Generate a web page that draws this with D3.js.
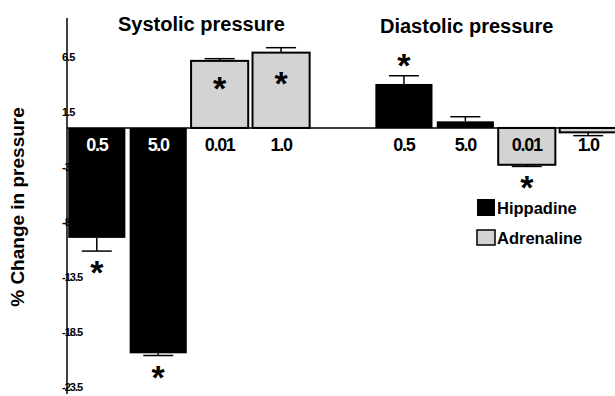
<!DOCTYPE html>
<html>
<head>
<meta charset="utf-8">
<script src="https://cdn.jsdelivr.net/npm/d3@7"></script>
<style>
body{margin:0;background:#fff;}
svg{display:block;font-family:"Liberation Sans",Arial,sans-serif;font-weight:bold;}
</style>
</head>
<body>
<div id="chart"></div>
<script>
// values (% change)
var groups = ['Systolic pressure','Diastolic pressure'];
var doses = ['0.5','5.0','0.01','1.0'];
var drugs = ['Hippadine','Hippadine','Adrenaline','Adrenaline'];
var systolic = [-10.0,-20.5,6.1,6.85];
var systolicErr = [1.2,0.2,0.2,0.45];
var diastolic = [4.0,0.6,-3.35,-0.4];
var diastolicErr = [0.75,0.42,0.15,0.3];
// where the * goes: 'out' past the error bar, 'in' inside the bar, '' none
var systolicSig = ['out','out','in','in'];
var diastolicSig = ['out','','out',''];
var tickValues = [6.5,1.5,-3.5,-8.5,-13.5,-18.5,-23.5];
var legendItems = ['Hippadine','Adrenaline'];
var colors = {Hippadine:'#000',Adrenaline:'#d3d3d3'};

var width = 615, height = 396;
var axisX = 67;

var svg = d3.select('#chart').append('svg')
	.attr('width',width).attr('height',height);

// build rows, diastolic group starts after one empty slot
var rows = [];
[systolic,diastolic].forEach(function(vals,g){
	var errs = g==0 ? systolicErr : diastolicErr;
	var sig = g==0 ? systolicSig : diastolicSig;
	vals.forEach(function(v,i){
		rows.push({slot:g*5+i,value:v,err:errs[i],sig:sig[i],dose:doses[i],drug:drugs[i]});
	});
});

var x = d3.scaleBand().domain(d3.range(9)).range([axisX,618])
	.paddingInner(0.07).paddingOuter(0.02);
var y = d3.scaleLinear().domain([10,-24.2]).range([18,394]);

// axis (drawn first, bars cover some labels like in the original)
var axis = d3.axisLeft(y).tickValues(tickValues).tickSize(0)
	.tickFormat(function(d){return (d<0?'-':'')+Math.abs(d);});
var gAxis = svg.append('g').attr('transform','translate('+axisX+',0)').call(axis);
gAxis.select('.domain').remove();
gAxis.selectAll('text')
	.attr('x',-5).attr('dy','0.35em')
	.attr('text-anchor','start')
	.style('font-family','"Liberation Sans",Arial,sans-serif')
	.style('font-weight','bold')
	.style('font-size','11px')
	.style('letter-spacing','-1px')
	.attr('fill','#000');
svg.append('line')
	.attr('x1',axisX).attr('x2',axisX)
	.attr('y1',y(10)).attr('y2',y(-24.2))
	.style('stroke','#000').style('stroke-width',1.5);

// bars
svg.selectAll('rect.bar').data(rows).enter().append('rect')
	.attr('class','bar')
	.attr('x',function(d){return x(d.slot);})
	.attr('width',x.bandwidth())
	.attr('y',function(d){return y(Math.max(0,d.value));})
	.attr('height',function(d){return Math.abs(y(d.value)-y(0));})
	.style('fill',function(d){return colors[d.drug];})
	.style('stroke',function(d){return d.drug=='Adrenaline'?'#000':'none';})
	.style('stroke-width',2);

// error bars, only on the outer side
var cap = 15;
rows.forEach(function(d){
	var cx = x(d.slot)+x.bandwidth()/2;
	var end = d.value>=0 ? d.value+d.err : d.value-d.err;
	svg.append('line')
		.attr('x1',cx).attr('x2',cx)
		.attr('y1',y(d.value)).attr('y2',y(end))
		.style('stroke','#000').style('stroke-width',1.5);
	svg.append('line')
		.attr('x1',cx-cap).attr('x2',cx+cap)
		.attr('y1',y(end)).attr('y2',y(end))
		.style('stroke','#000').style('stroke-width',1.5);
});

// zero line
svg.append('line')
	.attr('x1',axisX).attr('x2',width)
	.attr('y1',y(0)).attr('y2',y(0))
	.style('stroke','#000').style('stroke-width',1.5);

// dose labels
svg.selectAll('text.dose').data(rows).enter().append('text')
	.attr('class','dose')
	.attr('x',function(d){return x(d.slot)+x.bandwidth()/2;})
	.attr('y',y(0)+23)
	.attr('text-anchor','middle')
	.style('font-size','18px')
	.style('letter-spacing','-1.3px')
	.style('fill',function(d){return (d.drug=='Hippadine' && d.value<0)?'#fff':'#000';})
	.text(function(d){return d.dose;});

// significance stars
svg.selectAll('text.star').data(rows.filter(function(d){return d.sig;})).enter().append('text')
	.attr('class','star')
	.attr('x',function(d){return x(d.slot)+x.bandwidth()/2;})
	.attr('y',function(d){
		var c;
		if(d.sig=='in') c = y(d.value*0.68);
		else if(d.value<0) c = y(d.value-d.err)+15;
		else c = y(d.value+d.err)-17;
		return c+18;
	})
	.attr('text-anchor','middle')
	.style('font-size','34px')
	.text('*');

// group titles
svg.append('text').attr('x',118).attr('y',31).style('font-size','20px').text(groups[0]);
svg.append('text').attr('x',380).attr('y',33).style('font-size','20px').text(groups[1]);

// y title
svg.append('text')
	.attr('transform','translate(24,207) rotate(-90)')
	.attr('text-anchor','middle')
	.style('font-size','19px')
	.text('% Change in pressure');

// legend
var leg = svg.append('g').attr('transform','translate(477,199)');
legendItems.forEach(function(name,i){
	leg.append('rect')
		.attr('x',0).attr('y',i*31)
		.attr('width',18).attr('height',i==0?17:15)
		.style('fill',colors[name])
		.style('stroke','#000').style('stroke-width',i==0?0:1.5);
	leg.append('text')
		.attr('x',20).attr('y',i*30+15)
		.style('font-size','16.5px')
		.text(name);
});
</script>
</body>
</html>
